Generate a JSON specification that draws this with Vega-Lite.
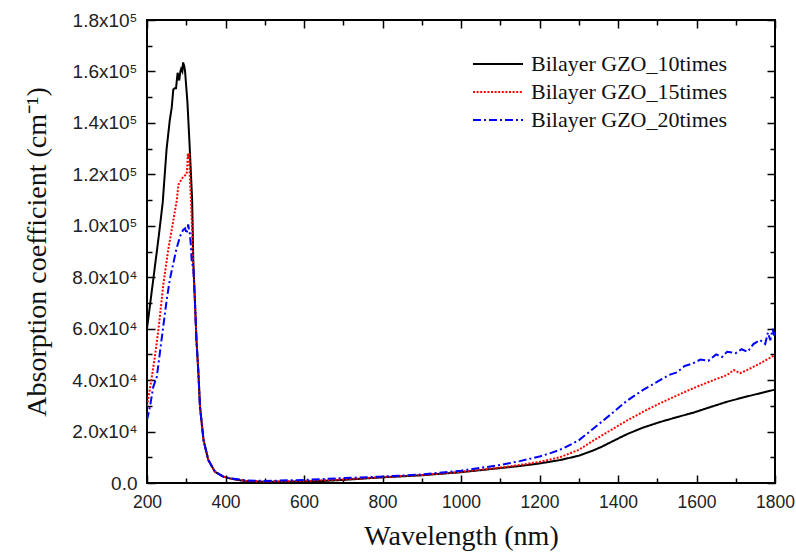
{
  "$schema": "https://vega.github.io/schema/vega-lite/v6.json",
  "width": 628,
  "height": 463,
  "autosize": {"type": "none"},
  "padding": {"left": 147, "top": 20, "right": 21, "bottom": 74},
  "background": "white",
  "config": {
    "view": {"stroke": "black", "strokeWidth": 2},
    "axis": {"grid": false, "domain": false, "tickColor": "black", "tickWidth": 1.5,
             "labelFont": "Liberation Sans", "labelFontSize": 17, "labelColor": "#222",
             "titleFont": "Liberation Serif", "titleFontSize": 28, "titleFontWeight": "normal", "titleColor": "#111"},
    "legend": {"orient": "none", "legendX": 325, "legendY": 33, "padding": 0, "title": null,
               "labelFont": "Liberation Serif", "labelFontSize": 22, "labelColor": "#111", "labelLimit": 400,
               "symbolType": "stroke", "symbolSize": 2500, "symbolStrokeWidth": 2,
               "labelOffset": 7, "rowPadding": 6, "clipHeight": 22}
  },
  "data": {"values": [
    {"wl":200,"a":60000,"s":"Bilayer GZO_10times"},{"wl":210,"a":72000,"s":"Bilayer GZO_10times"},{"wl":220,"a":84000,"s":"Bilayer GZO_10times"},{"wl":230,"a":96000,"s":"Bilayer GZO_10times"},{"wl":240,"a":109000,"s":"Bilayer GZO_10times"},{"wl":250,"a":130000,"s":"Bilayer GZO_10times"},{"wl":258,"a":141000,"s":"Bilayer GZO_10times"},{"wl":263,"a":146000,"s":"Bilayer GZO_10times"},{"wl":267,"a":153000,"s":"Bilayer GZO_10times"},{"wl":271,"a":153500,"s":"Bilayer GZO_10times"},{"wl":274,"a":153500,"s":"Bilayer GZO_10times"},{"wl":278,"a":159500,"s":"Bilayer GZO_10times"},{"wl":282,"a":156500,"s":"Bilayer GZO_10times"},{"wl":285,"a":160000,"s":"Bilayer GZO_10times"},{"wl":287,"a":161000,"s":"Bilayer GZO_10times"},{"wl":290,"a":160000,"s":"Bilayer GZO_10times"},{"wl":292,"a":163500,"s":"Bilayer GZO_10times"},{"wl":295,"a":162000,"s":"Bilayer GZO_10times"},{"wl":297,"a":160000,"s":"Bilayer GZO_10times"},{"wl":300,"a":154000,"s":"Bilayer GZO_10times"},{"wl":303,"a":148000,"s":"Bilayer GZO_10times"},{"wl":306,"a":139000,"s":"Bilayer GZO_10times"},{"wl":308,"a":133000,"s":"Bilayer GZO_10times"},{"wl":312,"a":120000,"s":"Bilayer GZO_10times"},{"wl":315,"a":110000,"s":"Bilayer GZO_10times"},{"wl":318,"a":86000,"s":"Bilayer GZO_10times"},{"wl":322,"a":71000,"s":"Bilayer GZO_10times"},{"wl":326,"a":55600,"s":"Bilayer GZO_10times"},{"wl":331,"a":42700,"s":"Bilayer GZO_10times"},{"wl":335,"a":29700,"s":"Bilayer GZO_10times"},{"wl":344,"a":16700,"s":"Bilayer GZO_10times"},{"wl":356,"a":9000,"s":"Bilayer GZO_10times"},{"wl":373,"a":4400,"s":"Bilayer GZO_10times"},{"wl":394,"a":2500,"s":"Bilayer GZO_10times"},{"wl":411,"a":1800,"s":"Bilayer GZO_10times"},{"wl":430,"a":1200,"s":"Bilayer GZO_10times"},{"wl":454,"a":700,"s":"Bilayer GZO_10times"},{"wl":500,"a":500,"s":"Bilayer GZO_10times"},{"wl":550,"a":500,"s":"Bilayer GZO_10times"},{"wl":600,"a":600,"s":"Bilayer GZO_10times"},{"wl":650,"a":800,"s":"Bilayer GZO_10times"},{"wl":700,"a":1200,"s":"Bilayer GZO_10times"},{"wl":750,"a":1700,"s":"Bilayer GZO_10times"},{"wl":800,"a":2200,"s":"Bilayer GZO_10times"},{"wl":850,"a":2600,"s":"Bilayer GZO_10times"},{"wl":900,"a":3000,"s":"Bilayer GZO_10times"},{"wl":950,"a":3600,"s":"Bilayer GZO_10times"},{"wl":1000,"a":4200,"s":"Bilayer GZO_10times"},{"wl":1050,"a":5000,"s":"Bilayer GZO_10times"},{"wl":1100,"a":5800,"s":"Bilayer GZO_10times"},{"wl":1150,"a":6600,"s":"Bilayer GZO_10times"},{"wl":1200,"a":7600,"s":"Bilayer GZO_10times"},{"wl":1252,"a":8900,"s":"Bilayer GZO_10times"},{"wl":1300,"a":10600,"s":"Bilayer GZO_10times"},{"wl":1336,"a":12600,"s":"Bilayer GZO_10times"},{"wl":1360,"a":14200,"s":"Bilayer GZO_10times"},{"wl":1390,"a":16500,"s":"Bilayer GZO_10times"},{"wl":1423,"a":19000,"s":"Bilayer GZO_10times"},{"wl":1465,"a":21600,"s":"Bilayer GZO_10times"},{"wl":1507,"a":23700,"s":"Bilayer GZO_10times"},{"wl":1550,"a":25600,"s":"Bilayer GZO_10times"},{"wl":1591,"a":27300,"s":"Bilayer GZO_10times"},{"wl":1635,"a":29500,"s":"Bilayer GZO_10times"},{"wl":1678,"a":31600,"s":"Bilayer GZO_10times"},{"wl":1720,"a":33300,"s":"Bilayer GZO_10times"},{"wl":1762,"a":34900,"s":"Bilayer GZO_10times"},{"wl":1800,"a":36300,"s":"Bilayer GZO_10times"},

    {"wl":200,"a":30000,"s":"Bilayer GZO_15times"},{"wl":210,"a":39000,"s":"Bilayer GZO_15times"},{"wl":220,"a":49000,"s":"Bilayer GZO_15times"},{"wl":229,"a":59500,"s":"Bilayer GZO_15times"},{"wl":242,"a":77600,"s":"Bilayer GZO_15times"},{"wl":254,"a":90600,"s":"Bilayer GZO_15times"},{"wl":267,"a":102000,"s":"Bilayer GZO_15times"},{"wl":276,"a":110000,"s":"Bilayer GZO_15times"},{"wl":280,"a":116000,"s":"Bilayer GZO_15times"},{"wl":284,"a":117000,"s":"Bilayer GZO_15times"},{"wl":288,"a":118000,"s":"Bilayer GZO_15times"},{"wl":292,"a":119000,"s":"Bilayer GZO_15times"},{"wl":296,"a":119500,"s":"Bilayer GZO_15times"},{"wl":301,"a":120000,"s":"Bilayer GZO_15times"},{"wl":303,"a":124000,"s":"Bilayer GZO_15times"},{"wl":304,"a":128000,"s":"Bilayer GZO_15times"},{"wl":306,"a":126000,"s":"Bilayer GZO_15times"},{"wl":308,"a":128500,"s":"Bilayer GZO_15times"},{"wl":309,"a":119000,"s":"Bilayer GZO_15times"},{"wl":312,"a":110000,"s":"Bilayer GZO_15times"},{"wl":315,"a":98000,"s":"Bilayer GZO_15times"},{"wl":318,"a":84000,"s":"Bilayer GZO_15times"},{"wl":322,"a":71000,"s":"Bilayer GZO_15times"},{"wl":326,"a":55600,"s":"Bilayer GZO_15times"},{"wl":331,"a":42700,"s":"Bilayer GZO_15times"},{"wl":335,"a":29700,"s":"Bilayer GZO_15times"},{"wl":344,"a":16700,"s":"Bilayer GZO_15times"},{"wl":356,"a":9000,"s":"Bilayer GZO_15times"},{"wl":373,"a":4400,"s":"Bilayer GZO_15times"},{"wl":394,"a":2500,"s":"Bilayer GZO_15times"},{"wl":411,"a":1800,"s":"Bilayer GZO_15times"},{"wl":454,"a":800,"s":"Bilayer GZO_15times"},{"wl":500,"a":600,"s":"Bilayer GZO_15times"},{"wl":600,"a":800,"s":"Bilayer GZO_15times"},{"wl":700,"a":1400,"s":"Bilayer GZO_15times"},{"wl":800,"a":2300,"s":"Bilayer GZO_15times"},{"wl":900,"a":3100,"s":"Bilayer GZO_15times"},{"wl":1000,"a":4300,"s":"Bilayer GZO_15times"},{"wl":1100,"a":6000,"s":"Bilayer GZO_15times"},{"wl":1150,"a":7000,"s":"Bilayer GZO_15times"},{"wl":1200,"a":8200,"s":"Bilayer GZO_15times"},{"wl":1252,"a":10000,"s":"Bilayer GZO_15times"},{"wl":1300,"a":12900,"s":"Bilayer GZO_15times"},{"wl":1336,"a":16400,"s":"Bilayer GZO_15times"},{"wl":1380,"a":20400,"s":"Bilayer GZO_15times"},{"wl":1423,"a":24300,"s":"Bilayer GZO_15times"},{"wl":1465,"a":27800,"s":"Bilayer GZO_15times"},{"wl":1507,"a":31000,"s":"Bilayer GZO_15times"},{"wl":1550,"a":34000,"s":"Bilayer GZO_15times"},{"wl":1591,"a":36800,"s":"Bilayer GZO_15times"},{"wl":1635,"a":39500,"s":"Bilayer GZO_15times"},{"wl":1678,"a":42000,"s":"Bilayer GZO_15times"},{"wl":1695,"a":43900,"s":"Bilayer GZO_15times"},{"wl":1711,"a":42700,"s":"Bilayer GZO_15times"},{"wl":1730,"a":44000,"s":"Bilayer GZO_15times"},{"wl":1762,"a":46500,"s":"Bilayer GZO_15times"},{"wl":1785,"a":48500,"s":"Bilayer GZO_15times"},{"wl":1800,"a":49800,"s":"Bilayer GZO_15times"},

    {"wl":200,"a":24500,"s":"Bilayer GZO_20times"},{"wl":208,"a":30000,"s":"Bilayer GZO_20times"},{"wl":216,"a":37400,"s":"Bilayer GZO_20times"},{"wl":225,"a":41300,"s":"Bilayer GZO_20times"},{"wl":237,"a":55600,"s":"Bilayer GZO_20times"},{"wl":250,"a":71000,"s":"Bilayer GZO_20times"},{"wl":258,"a":79000,"s":"Bilayer GZO_20times"},{"wl":267,"a":85400,"s":"Bilayer GZO_20times"},{"wl":275,"a":91000,"s":"Bilayer GZO_20times"},{"wl":284,"a":95800,"s":"Bilayer GZO_20times"},{"wl":292,"a":98400,"s":"Bilayer GZO_20times"},{"wl":297,"a":99000,"s":"Bilayer GZO_20times"},{"wl":301,"a":97000,"s":"Bilayer GZO_20times"},{"wl":305,"a":100500,"s":"Bilayer GZO_20times"},{"wl":307,"a":98500,"s":"Bilayer GZO_20times"},{"wl":309,"a":97000,"s":"Bilayer GZO_20times"},{"wl":312,"a":92000,"s":"Bilayer GZO_20times"},{"wl":314,"a":85400,"s":"Bilayer GZO_20times"},{"wl":318,"a":84000,"s":"Bilayer GZO_20times"},{"wl":322,"a":71000,"s":"Bilayer GZO_20times"},{"wl":326,"a":55600,"s":"Bilayer GZO_20times"},{"wl":331,"a":42700,"s":"Bilayer GZO_20times"},{"wl":335,"a":29700,"s":"Bilayer GZO_20times"},{"wl":344,"a":16700,"s":"Bilayer GZO_20times"},{"wl":356,"a":9000,"s":"Bilayer GZO_20times"},{"wl":373,"a":4400,"s":"Bilayer GZO_20times"},{"wl":394,"a":2500,"s":"Bilayer GZO_20times"},{"wl":411,"a":1800,"s":"Bilayer GZO_20times"},{"wl":454,"a":1000,"s":"Bilayer GZO_20times"},{"wl":500,"a":800,"s":"Bilayer GZO_20times"},{"wl":600,"a":1200,"s":"Bilayer GZO_20times"},{"wl":700,"a":1900,"s":"Bilayer GZO_20times"},{"wl":793,"a":2450,"s":"Bilayer GZO_20times"},{"wl":900,"a":3300,"s":"Bilayer GZO_20times"},{"wl":1000,"a":4800,"s":"Bilayer GZO_20times"},{"wl":1100,"a":7000,"s":"Bilayer GZO_20times"},{"wl":1150,"a":8500,"s":"Bilayer GZO_20times"},{"wl":1200,"a":10300,"s":"Bilayer GZO_20times"},{"wl":1230,"a":11700,"s":"Bilayer GZO_20times"},{"wl":1260,"a":13400,"s":"Bilayer GZO_20times"},{"wl":1300,"a":16600,"s":"Bilayer GZO_20times"},{"wl":1336,"a":21000,"s":"Bilayer GZO_20times"},{"wl":1380,"a":26500,"s":"Bilayer GZO_20times"},{"wl":1423,"a":32000,"s":"Bilayer GZO_20times"},{"wl":1465,"a":36300,"s":"Bilayer GZO_20times"},{"wl":1507,"a":40000,"s":"Bilayer GZO_20times"},{"wl":1530,"a":42000,"s":"Bilayer GZO_20times"},{"wl":1550,"a":43000,"s":"Bilayer GZO_20times"},{"wl":1570,"a":45500,"s":"Bilayer GZO_20times"},{"wl":1591,"a":46500,"s":"Bilayer GZO_20times"},{"wl":1610,"a":48000,"s":"Bilayer GZO_20times"},{"wl":1630,"a":47500,"s":"Bilayer GZO_20times"},{"wl":1650,"a":50000,"s":"Bilayer GZO_20times"},{"wl":1665,"a":49000,"s":"Bilayer GZO_20times"},{"wl":1678,"a":51000,"s":"Bilayer GZO_20times"},{"wl":1700,"a":50500,"s":"Bilayer GZO_20times"},{"wl":1715,"a":52000,"s":"Bilayer GZO_20times"},{"wl":1730,"a":51000,"s":"Bilayer GZO_20times"},{"wl":1745,"a":54000,"s":"Bilayer GZO_20times"},{"wl":1762,"a":55600,"s":"Bilayer GZO_20times"},{"wl":1775,"a":54000,"s":"Bilayer GZO_20times"},{"wl":1782,"a":58500,"s":"Bilayer GZO_20times"},{"wl":1788,"a":55500,"s":"Bilayer GZO_20times"},{"wl":1794,"a":60000,"s":"Bilayer GZO_20times"},{"wl":1798,"a":57000,"s":"Bilayer GZO_20times"},{"wl":1800,"a":59000,"s":"Bilayer GZO_20times"}
  ]},
  "layer": [
    {
      "mark": {"type": "line", "strokeWidth": 2, "clip": true},
      "encoding": {
        "x": {"field": "wl", "type": "quantitative",
              "scale": {"domain": [200, 1800], "nice": false, "zero": false},
              "axis": {"orient": "bottom", "title": "Wavelength (nm)", "format": "d",
                       "values": [200,300,400,500,600,700,800,900,1000,1100,1200,1300,1400,1500,1600,1700,1800],
                       "labelExpr": "datum.value % 200 == 0 ? datum.label : ''",
                       "tickSize": {"condition": {"test": "datum.value % 200 == 0", "value": -8}, "value": -5},
                       "labelPadding": 18, "titlePadding": 12, "labelFlush": false, "labelFontSize": 17.5}},
        "y": {"field": "a", "type": "quantitative",
              "scale": {"domain": [0, 180000], "nice": false},
              "axis": {"orient": "left", "title": "Absorption coefficient (cm⁻¹)",
                       "values": [0,10000,20000,30000,40000,50000,60000,70000,80000,90000,100000,110000,120000,130000,140000,150000,160000,170000,180000],
                       "labelExpr": "datum.value == 0 ? '0.0' : (datum.value % 20000 != 0 ? '' : (datum.value >= 100000 ? format(datum.value/100000, '.1f') + 'x10⁵' : format(datum.value/10000, '.1f') + 'x10⁴'))",
                       "tickSize": {"condition": {"test": "datum.value % 20000 == 0", "value": -8}, "value": -5},
                       "labelPadding": 18, "titlePadding": 20, "labelFlush": false, "labelFontSize": 19}},
        "color": {"field": "s", "type": "nominal",
                  "scale": {"domain": ["Bilayer GZO_10times", "Bilayer GZO_15times", "Bilayer GZO_20times"], "range": ["#000000", "#ff0000", "#0000ff"]}},
        "strokeDash": {"field": "s", "type": "nominal",
                  "scale": {"domain": ["Bilayer GZO_10times", "Bilayer GZO_15times", "Bilayer GZO_20times"], "range": [[1, 0], [2, 1.6], [8, 3, 2, 3]]}}
      }
    },
    {
      "mark": {"type": "line", "opacity": 0},
      "encoding": {
        "x": {"field": "wl", "type": "quantitative",
              "axis": {"orient": "top", "title": null, "labels": false,
                       "values": [200,300,400,500,600,700,800,900,1000,1100,1200,1300,1400,1500,1600,1700,1800],
                       "tickSize": {"condition": {"test": "datum.value % 200 == 0", "value": -8}, "value": -5}}},
        "y": {"field": "a", "type": "quantitative",
              "axis": {"orient": "right", "title": null, "labels": false,
                       "values": [0,10000,20000,30000,40000,50000,60000,70000,80000,90000,100000,110000,120000,130000,140000,150000,160000,170000,180000],
                       "tickSize": {"condition": {"test": "datum.value % 20000 == 0", "value": -8}, "value": -5}}},
        "detail": {"field": "s", "type": "nominal"}
      }
    }
  ],
  "resolve": {"axis": {"x": "independent", "y": "independent"}}
}
